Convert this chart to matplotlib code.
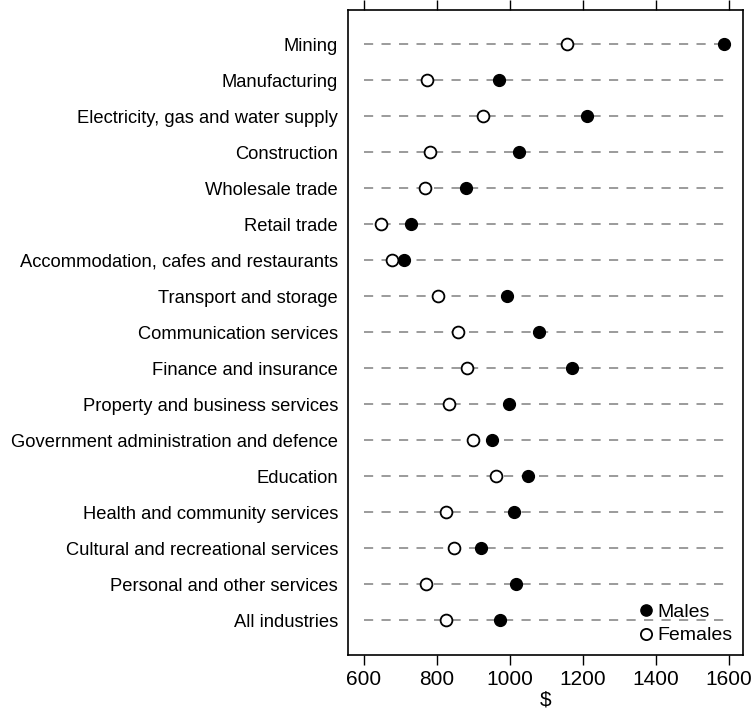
import matplotlib
matplotlib.use("Agg")
import matplotlib.pyplot as plt

# industries, top to bottom
industries = [
    "Mining",
    "Manufacturing",
    "Electricity, gas and water supply",
    "Construction",
    "Wholesale trade",
    "Retail trade",
    "Accommodation, cafes and restaurants",
    "Transport and storage",
    "Communication services",
    "Finance and insurance",
    "Property and business services",
    "Government administration and defence",
    "Education",
    "Health and community services",
    "Cultural and recreational services",
    "Personal and other services",
    "All industries",
]

# average weekly earnings ($)
males = [1585, 971, 1212, 1026, 881, 730, 710, 993, 1080, 1169,
         997, 952, 1049, 1011, 922, 1017, 974]
females = [1157, 774, 928, 781, 769, 647, 679, 804, 858, 882,
           833, 899, 962, 826, 847, 772, 826]

x_ticks = [600, 800, 1000, 1200, 1400, 1600]

plt.rcParams["font.family"] = ["Liberation Sans", "DejaVu Sans"]
plt.rcParams["font.size"] = 13.2

fig = plt.figure(figsize=(7.54, 7.13), dpi=100)
ax = fig.add_axes([0.4615, 0.0813, 0.5239, 0.9046])

ypos = list(range(len(industries)))

# dashed guide lines behind the dots
ax.hlines(ypos, 600, 1600, colors="#8a8a8a", linestyles=(0, (5.5, 5)),
          linewidth=1.2, zorder=1)

ax.plot(males, ypos, "o", color="black", markersize=8.5, linestyle="none",
        label="Males", zorder=3)
ax.plot(females, ypos, "o", markerfacecolor="white", markeredgecolor="black",
        markeredgewidth=1.3, markersize=8.5, linestyle="none",
        label="Females", zorder=3)

ax.set_ylim(len(industries) - 1 + 0.97, -0.95)
ax.set_xlim(557.5, 1638)
ax.set_yticks(ypos)
ax.set_yticklabels(industries)
ax.tick_params(axis="y", length=0, pad=7)
ax.set_xticks(x_ticks)
ax.tick_params(axis="x", top=True, direction="out", length=7, width=1,
               pad=4, labelsize=15)
ax.set_xlabel("$", labelpad=1, fontsize=15)

for sp in ax.spines.values():
    sp.set_linewidth(1.2)

ax.legend(loc="lower right", frameon=False, handletextpad=0.15,
          labelspacing=0.3, borderaxespad=0.45, handlelength=0.9,
          markerscale=0.95, borderpad=0.1, fontsize=14)

fig.savefig("out.png", dpi=100)
